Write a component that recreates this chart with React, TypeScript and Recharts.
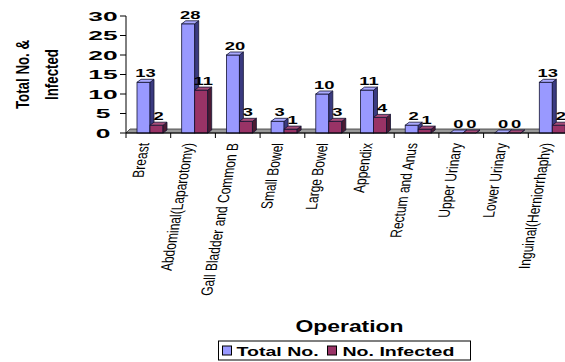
import React from 'react';
import { BarChart, Bar, XAxis, YAxis, ReferenceArea, LabelList } from 'recharts';

const categories = [
  'Breast',
  'Abdominal(Laparotomy)',
  'Gall Bladder and Common B',
  'Small Bowel',
  'Large Bowel',
  'Appendix',
  'Rectum and Anus',
  'Upper Urinary',
  'Lower Urinary',
  'Inguinal(Herniorrhaphy)',
];
const totalNo = [13, 28, 20, 3, 10, 11, 2, 0, 0, 13];
const noInfected = [2, 11, 3, 1, 3, 4, 1, 0, 0, 2];
const yTicks = [0, 5, 10, 15, 20, 25, 30];
const seriesNames = ['Total No.', 'No. Infected'];
const yTitleLines = ['Total No. &', 'Infected'];
const xTitle = 'Operation';

const data = categories.map((name, i) => ({ name, total: totalNo[i], infected: noInfected[i] }));

const FONT = '"Liberation Sans", Arial, Helvetica, sans-serif';
const BLUE = { front: '#9999FF', side: '#3a3a80', top: '#aaaaff' };
const RED = { front: '#993366', side: '#4d1a33', top: '#a84d7a' };
const OUT = '#141433';
const DX = 4;
const DY = 3;
const SHIFT = 2;

const make3D = (c: { front: string; side: string; top: string }) => (props: any) => {
  const { x, y, width, height } = props;
  if (x == null || y == null) return null;
  const x0 = x + SHIFT;
  const x1 = x0 + width;
  const y0 = y;
  const y1 = y + (height || 0);
  return (
    <g>
      <rect x={x0} y={y0} width={width} height={Math.max(0, height || 0)} fill={c.front} stroke={OUT} strokeWidth={0.8} />
      <polygon
        points={`${x1},${y0} ${x1 + DX},${y0 - DY} ${x1 + DX},${y1 - DY} ${x1},${y1}`}
        fill={c.side}
        stroke={OUT}
        strokeWidth={0.8}
      />
      <polygon
        points={`${x0},${y0} ${x0 + DX},${y0 - DY} ${x1 + DX},${y0 - DY} ${x1},${y0}`}
        fill={c.top}
        stroke={OUT}
        strokeWidth={0.8}
      />
    </g>
  );
};

const BlueBar = make3D(BLUE);
const RedBar = make3D(RED);

const ValueLabel = (props: any) => {
  const { x, y, width, value } = props;
  if (x == null || y == null) return null;
  const cx = x + width / 2 + SHIFT + DX / 2;
  return (
    <text
      transform={`translate(${cx},${y - 5}) scale(1.75,1)`}
      textAnchor="middle"
      fontFamily={FONT}
      fontWeight="bold"
      fontSize={10.5}
      fill="#000"
    >
      {value}
    </text>
  );
};

const FloorShape = (props: any) => {
  const { x, y, width, height } = props;
  const b = y + height;
  return (
    <polygon
      points={`${x},${b} ${x + DX},${b - DY - 1} ${x + width + DX},${b - DY - 1} ${x + width},${b}`}
      fill="#999999"
      stroke="#333333"
      strokeWidth={0.8}
    />
  );
};

const YTick = (props: any) => {
  const { x, y, payload } = props;
  return (
    <g>
      <line x1={x - 6} x2={x} y1={y} y2={y} stroke="#000" strokeWidth={1} />
      <text
        transform={`translate(${x - 23},${y + 4.5}) scale(2.2,1)`}
        textAnchor="middle"
        fontFamily={FONT}
        fontWeight="bold"
        fontSize={12}
        fill="#000"
      >
        {payload.value}
      </text>
    </g>
  );
};

const XTick = (props: any) => {
  const { x, y, payload, index, visibleTicksCount, width } = props;
  let half = payload && payload.offset;
  if (!half && width && visibleTicksCount) half = width / visibleTicksCount / 2;
  if (!half) half = 22;
  const s = 0.75;
  const k = 0.176;
  return (
    <g>
      {index === 0 && <line x1={x - half} x2={x - half} y1={y} y2={y + 5} stroke="#000" />}
      <line x1={x + half} x2={x + half} y1={y} y2={y + 5} stroke="#000" />
      <text
        transform={`matrix(${k * s},${-s},1,0,${x + 1},${y + 10})`}
        textAnchor="end"
        fontFamily={FONT}
        fontSize={16}
        fill="#000"
      >
        {payload.value}
      </text>
    </g>
  );
};

const YTitle = (props: any) => {
  const vb = props.viewBox || { x: 0, y: 16, width: 126, height: 117 };
  const cy = vb.y + vb.height / 2;
  return (
    <g>
      <text
        transform={`translate(${vb.x + 29},${cy}) rotate(-90) scale(0.7,1)`}
        textAnchor="middle"
        fontFamily={FONT}
        fontWeight="bold"
        fontSize={19}
        fill="#000"
      >
        {yTitleLines[0]}
      </text>
      <text
        transform={`translate(${vb.x + 58},${cy}) rotate(-90) scale(0.7,1)`}
        textAnchor="middle"
        fontFamily={FONT}
        fontWeight="bold"
        fontSize={19}
        fill="#000"
      >
        {yTitleLines[1]}
      </text>
    </g>
  );
};

const XTitleAndLegend = (props: any) => {
  const vb = props.viewBox || { x: 126, y: 133, width: 447, height: 229 };
  const cx = vb.x + vb.width / 2;
  const top = vb.y;
  const boxL = cx - 131;
  const boxT = top + 208;
  return (
    <g>
      <text
        transform={`translate(${cx},${top + 199}) scale(1.43,1)`}
        textAnchor="middle"
        fontFamily={FONT}
        fontWeight="bold"
        fontSize={16}
        fill="#000"
      >
        {xTitle}
      </text>
      <rect x={boxL} y={boxT} width={252} height={19} fill="#fff" stroke="#000" strokeWidth={1} />
      <rect x={boxL + 4} y={boxT + 5} width={9} height={9} fill={BLUE.front} stroke="#000" strokeWidth={1} />
      <text
        transform={`translate(${boxL + 18},${boxT + 15}) scale(1.45,1)`}
        fontFamily={FONT}
        fontWeight="bold"
        fontSize={13.5}
        fill="#000"
      >
        {seriesNames[0]}
      </text>
      <rect x={boxL + 109} y={boxT + 5} width={9} height={9} fill={RED.front} stroke="#000" strokeWidth={1} />
      <text
        transform={`translate(${boxL + 124},${boxT + 15}) scale(1.45,1)`}
        fontFamily={FONT}
        fontWeight="bold"
        fontSize={13.5}
        fill="#000"
      >
        {seriesNames[1]}
      </text>
    </g>
  );
};

export default function App() {
  return (
    <div
      style={{
        position: 'absolute',
        left: 0,
        top: 0,
        width: 565,
        height: 362,
        overflow: 'hidden',
        background: '#fff',
      }}
    >
      <BarChart
        width={575}
        height={362}
        data={data}
        margin={{ top: 16, right: 2, left: 0, bottom: 0 }}
        barSize={13}
        barGap={0}
      >
        <ReferenceArea y1={0} y2={0.5} ifOverflow="visible" shape={FloorShape} />
        <XAxis
          dataKey="name"
          height={229}
          interval={0}
          tickLine={false}
          tickSize={0}
          tickMargin={0}
          axisLine={{ stroke: '#000', strokeWidth: 1 }}
          tick={<XTick />}
          label={<XTitleAndLegend />}
        />
        <YAxis
          width={126}
          domain={[0, 30]}
          ticks={yTicks}
          interval={0}
          tickLine={false}
          tickSize={0}
          tickMargin={0}
          axisLine={{ stroke: '#000', strokeWidth: 1 }}
          tick={<YTick />}
          label={<YTitle />}
        />
        <Bar dataKey="total" name={seriesNames[0]} shape={BlueBar} isAnimationActive={false}>
          <LabelList dataKey="total" content={ValueLabel} />
        </Bar>
        <Bar dataKey="infected" name={seriesNames[1]} shape={RedBar} isAnimationActive={false}>
          <LabelList dataKey="infected" content={ValueLabel} />
        </Bar>
      </BarChart>
    </div>
  );
}
